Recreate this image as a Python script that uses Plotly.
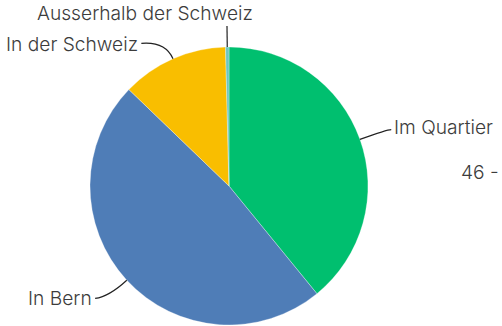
import math
import plotly.graph_objects as go

# Anteile nach Herkunft (Prozent)
labels = ["Im Quartier", "In Bern", "In der Schweiz", "Ausserhalb der Schweiz"]
values = [39.1, 48.1, 12.4, 0.4]
colors = ["#00BF6F", "#4F7DB7", "#F9BE00", "#6CC6C0"]

W, H = 502, 326
CX, CY, R = 229, 186, 139          # pie centre and radius in pixels
FONT = "Inter, Lato, sans-serif"
FSIZE = 19.2
TXT = "#3c3c3c"

def to_paper(px, py):
    return px / W, 1 - py / H

fig = go.Figure(go.Pie(
    labels=labels,
    values=values,
    sort=False,
    direction="clockwise",
    rotation=0,
    marker=dict(colors=colors, line=dict(color="rgba(255,255,255,0.6)", width=0.5)),
    textinfo="none",
    hoverinfo="label+percent",
    domain=dict(x=[(CX - R) / W, (CX + R) / W],
                y=[1 - (CY + R) / H, 1 - (CY - R) / H]),
    showlegend=False,
))

# leader-line style per label: (outer radius, horizontal run, label side, label dx, label dy)
leader = {
    "Im Quartier":            (168, 4, "left", 0, -3),
    "In Bern":                (163, -14, "right", 0, 0),
    "In der Schweiz":         (158, -24, "right", 0, 1),
    "Ausserhalb der Schweiz": (160, 0, "above", 28, 0),
}

font = dict(family=FONT, size=FSIZE, color=TXT, weight=300)

total = sum(values)
cum = 0.0
shapes, annotations = [], []
for lab, v in zip(labels, values):
    mid = (cum + v / 2) / total * 2 * math.pi
    cum += v
    r_out, run, side, ldx, ldy = leader[lab]
    x0, y0 = CX + R * math.sin(mid), CY - R * math.cos(mid)
    x1, y1 = CX + r_out * math.sin(mid), CY - r_out * math.cos(mid)
    x2, y2 = x1 + run, y1
    if side != "above":
        y2 = y1 + (2 if run < 0 else 0)
    p0, p1, p2 = to_paper(x0, y0), to_paper(x1, y1), to_paper(x2, y2)
    path = f"M {p0[0]},{p0[1]} Q {p1[0]},{p1[1]} {p2[0]},{p2[1]}"
    shapes.append(dict(type="path", path=path, xref="paper", yref="paper",
                       line=dict(color="#222", width=1.2)))
    if side == "above":
        ax, ay = to_paper(x2 + ldx, y2 + 1)
        annotations.append(dict(x=ax, y=ay, xref="paper", yref="paper", text=lab,
                                showarrow=False, xanchor="right", yanchor="bottom",
                                font=font))
    else:
        ax, ay = to_paper(x2 + (1 if side == "left" else -1) + ldx, y2 + ldy)
        annotations.append(dict(x=ax, y=ay, xref="paper", yref="paper", text=lab,
                                showarrow=False, xanchor=side, yanchor="middle",
                                font=font))

# legend heading at the right edge
lx, ly = to_paper(501, 172)
annotations.append(dict(x=lx, y=ly, xref="paper", yref="paper", text="46 -",
                        showarrow=False, xanchor="right", yanchor="middle",
                        font=font))

fig.update_layout(
    width=W, height=H,
    margin=dict(l=0, r=0, t=0, b=0, pad=0),
    paper_bgcolor="white", plot_bgcolor="white",
    shapes=shapes, annotations=annotations,
)

fig.write_html("out.html")
